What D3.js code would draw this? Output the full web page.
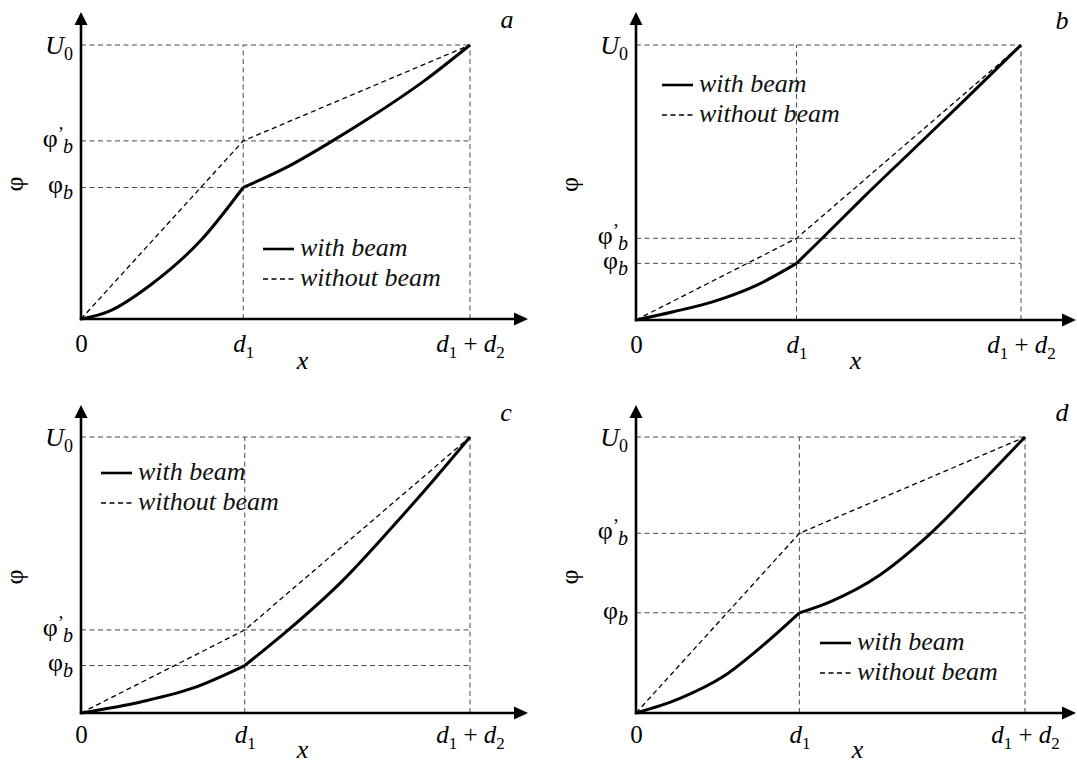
<!DOCTYPE html>
<html><head><meta charset="utf-8">
<script src="https://cdn.jsdelivr.net/npm/d3@7"></script>
<style>body{margin:0;background:#fff}svg{display:block}</style>
</head><body>
<svg id="chart" width="1077" height="763"></svg>
<script>
// ---------- data (normalised: x in units of d1+d2, y in units of U0) ----------
const panelLetters = ["a", "b", "c", "d"];
const d1Values = [0.417, 0.417, 0.421, 0.42];
const u0Value = 1;
const phiBValues = [0.48, 0.206, 0.172, 0.363];
const phiBPrimeValues = [0.65, 0.297, 0.301, 0.651];

const withBeamA = [[0,0],[0.07,0.027],[0.182,0.128],[0.31,0.29],[0.417,0.48],[0.533,0.557],[0.636,0.641],[0.756,0.747],[0.884,0.871],[1,1]];
const withBeamB = [[0,0],[0.097,0.03],[0.201,0.067],[0.314,0.127],[0.417,0.206],[0.487,0.302],[0.59,0.445],[0.72,0.62],[0.85,0.795],[1,1]];
const withBeamC = [[0,0],[0.156,0.041],[0.285,0.089],[0.421,0.172],[0.533,0.301],[0.67,0.476],[0.799,0.672],[0.91,0.85],[1,1]];
const withBeamD = [[0,0],[0.113,0.053],[0.224,0.132],[0.327,0.246],[0.42,0.363],[0.499,0.403],[0.627,0.5],[0.739,0.627],[0.884,0.83],[1,1]];

const withoutBeamA = [[0,0],[0.417,0.65],[1,1]];
const withoutBeamB = [[0,0],[0.417,0.297],[1,1]];
const withoutBeamC = [[0,0],[0.421,0.301],[1,1]];
const withoutBeamD = [[0,0],[0.42,0.651],[1,1]];

const xTickLabels = ["0", "d1", "d1 + d2"];
const yTickLabels = ["φb", "φ'b", "U0"];
const legendLabels = ["with beam", "without beam"];
const axisLabelX = "x";
const axisLabelY = "φ";

const withBeamSeries = [withBeamA, withBeamB, withBeamC, withBeamD];
const withoutBeamSeries = [withoutBeamA, withoutBeamB, withoutBeamC, withoutBeamD];

// ---------- layout ----------
const layout = [
  {x0:81,  x1:470,  y0:319, y1:45,  top:12,  right:528,  legX:263, legY:249, tickY:33, xlabY:369, letterX:507,  letterY:28},
  {x0:636, x1:1021, y0:320, y1:45,  top:12,  right:1076, legX:662, legY:85,  tickY:33, xlabY:369, letterX:1062, letterY:29},
  {x0:81,  x1:470,  y0:713, y1:437, top:405, right:528,  legX:101, legY:473, tickY:30, xlabY:758, letterX:506,  letterY:421},
  {x0:636, x1:1025, y0:713, y1:437, top:405, right:1076, legX:820, legY:643, tickY:30, xlabY:758, letterX:1062, letterY:421}
];

const SERIF = '"Liberation Serif", serif';
const svg = d3.select("#chart");

function fillLabel(textSel, label) {
  textSel.text(null);
  if (label === "0") { textSel.append("tspan").text("0"); return; }
  if (label === "d1") {
    textSel.append("tspan").attr("font-style","italic").text("d");
    textSel.append("tspan").attr("font-size",17).attr("dy",6).text("1");
    return;
  }
  if (label === "d1 + d2") {
    textSel.append("tspan").attr("font-style","italic").text("d");
    textSel.append("tspan").attr("font-size",17).attr("dy",6).text("1");
    textSel.append("tspan").attr("dy",-6).text(" + ");
    textSel.append("tspan").attr("font-style","italic").text("d");
    textSel.append("tspan").attr("font-size",17).attr("dy",6).text("2");
    return;
  }
  if (label === "U0") {
    textSel.append("tspan").attr("font-style","italic").text("U");
    textSel.append("tspan").attr("font-size",18).attr("dy",6).text("0");
    return;
  }
  if (label === "φb") {
    textSel.append("tspan").text("φ");
    textSel.append("tspan").attr("font-style","italic").attr("font-size",20).attr("dy",6).text("b");
    return;
  }
  if (label === "φ'b") {
    textSel.append("tspan").text("φ");
    textSel.append("tspan").attr("font-size",19).attr("dy",-7).text("\u2019");
    textSel.append("tspan").attr("font-style","italic").attr("font-size",20).attr("dx",-1).attr("dy",13).text("b");
    return;
  }
  textSel.text(label);
}

panelLetters.forEach((letter, i) => {
  const L = layout[i];
  const d1 = d1Values[i];
  const x = d3.scaleLinear().domain([0, 1]).range([L.x0, L.x1]);
  const y = d3.scaleLinear().domain([0, u0Value]).range([L.y0, L.y1]);
  const g = svg.append("g");

  const yVals = [phiBValues[i], phiBPrimeValues[i], u0Value];
  const xVals = [0, d1, 1];

  // dashed guide lines
  const guides = g.append("g").attr("stroke","#4a4a4a").attr("stroke-width",1)
    .attr("stroke-dasharray","5,3.5").attr("fill","none");
  yVals.forEach(v => {
    guides.append("line").attr("x1", x(0)).attr("x2", x(1)).attr("y1", y(v)).attr("y2", y(v));
  });
  [d1, 1].forEach(v => {
    guides.append("line").attr("x1", x(v)).attr("x2", x(v)).attr("y1", y(0)).attr("y2", y(u0Value));
  });

  // curves
  const line = d3.line().x(p => x(p[0])).y(p => y(p[1]));
  const smooth = d3.line().x(p => x(p[0])).y(p => y(p[1])).curve(d3.curveMonotoneX);
  g.append("path").datum(withoutBeamSeries[i]).attr("d", line)
    .attr("fill","none").attr("stroke","#000").attr("stroke-width",1.3).attr("stroke-dasharray","5,3.5");
  const wb = withBeamSeries[i];
  const seg1 = wb.filter(p => p[0] <= d1 + 1e-9);
  const seg2 = wb.filter(p => p[0] >= d1 - 1e-9);
  [seg1, seg2].forEach(seg => {
    g.append("path").datum(seg).attr("d", smooth)
      .attr("fill","none").attr("stroke","#000").attr("stroke-width",3).attr("stroke-linejoin","round");
  });

  // axes lines with arrows
  g.append("line").attr("x1", x(0)).attr("x2", x(0)).attr("y1", y(0) + 1.2).attr("y2", L.top + 10)
    .attr("stroke","#000").attr("stroke-width",2.6);
  g.append("path").attr("d", `M${x(0)},${L.top} L${x(0)-6.5},${L.top+13} L${x(0)+6.5},${L.top+13} Z`).attr("fill","#000");
  g.append("line").attr("x1", x(0) - 1.2).attr("x2", L.right - 10).attr("y1", y(0)).attr("y2", y(0))
    .attr("stroke","#000").attr("stroke-width",2.6);
  g.append("path").attr("d", `M${L.right},${y(0)} L${L.right-14},${y(0)-6.5} L${L.right-14},${y(0)+6.5} Z`).attr("fill","#000");

  // x ticks via d3 axis
  const xAxis = g.append("g").attr("transform", `translate(0,${y(0)})`)
    .call(d3.axisBottom(x).tickValues(xVals).tickSize(0).tickPadding(0));
  xAxis.attr("font-family", null);
  xAxis.select(".domain").remove();
  xAxis.selectAll(".tick text")
    .attr("y", L.tickY).attr("dy", 0)
    .style("font-family", SERIF).attr("font-size", 25).attr("fill","#000")
    .each(function(d, k) { fillLabel(d3.select(this), xTickLabels[k]); });

  // y ticks via d3 axis
  const yAxis = g.append("g").attr("transform", `translate(${x(0)},0)`)
    .call(d3.axisLeft(y).tickValues(yVals).tickSize(0).tickPadding(8));
  yAxis.attr("font-family", null);
  yAxis.select(".domain").remove();
  yAxis.selectAll(".tick text")
    .style("font-family", SERIF).attr("font-size", 26).attr("fill","#000")
    .attr("dy", (d, k) => yTickLabels[k] === "U0" ? "0.32em" : "0.2em")
    .each(function(d, k) { fillLabel(d3.select(this), yTickLabels[k]); });

  // axis titles
  g.append("text").attr("x", (L.x0 + L.x1) / 2 + 27).attr("y", L.xlabY)
    .attr("text-anchor","middle").style("font-family", SERIF).attr("font-style","italic").attr("font-size",26)
    .text(axisLabelX);
  const ty = (L.y0 + L.y1) / 2 + 2;
  g.append("text").attr("transform", `translate(${x(0) - 58},${ty}) rotate(-90)`)
    .attr("text-anchor","middle").style("font-family", SERIF).attr("font-size",26)
    .text(axisLabelY);

  // panel letter
  g.append("text").attr("x", L.letterX).attr("y", L.letterY).attr("text-anchor","middle")
    .style("font-family", SERIF).attr("font-style","italic").attr("font-size",26).text(letter);

  // legend
  const leg = g.append("g").attr("transform", `translate(${L.legX},${L.legY})`);
  legendLabels.forEach((lab, k) => {
    const row = leg.append("g").attr("transform", `translate(0,${k * 30})`);
    row.append("line").attr("x1",0).attr("x2",31).attr("y1",0).attr("y2",0)
      .attr("stroke","#000").attr("stroke-width", k === 0 ? 2.6 : 1.3)
      .attr("stroke-dasharray", k === 0 ? null : "5,3.5");
    row.append("text").attr("x",37).attr("y",7)
      .style("font-family", SERIF).attr("font-style","italic").attr("font-size",26).attr("fill","#111")
      .text(lab);
  });
});
</script>
</body></html>
